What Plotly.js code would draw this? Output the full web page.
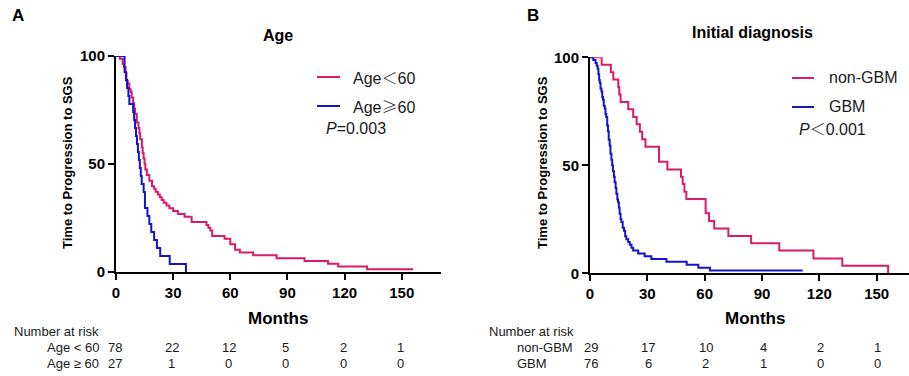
<!DOCTYPE html>
<html>
<head>
<meta charset="utf-8">
<script src="https://cdn.plot.ly/plotly-3.0.1.min.js"></script>
<style>html,body{margin:0;padding:0;background:#fff;}#chart{width:909px;height:376px;}</style>
</head>
<body>
<div id="chart"></div>
<script>
// ---- Data ----
// Panel A: Age
const ageLtTimes = [0, 2.0, 3.5, 4.2, 5.0, 5.5, 6.2, 7.0, 7.7, 8.2, 9.0, 9.5, 10.0, 10.9, 11.8, 12.3, 12.7, 13.6, 14.0, 14.5, 15.0, 15.4, 16.2, 17.5, 18.9, 20.0, 20.8, 22.0, 23.0, 24.0, 25.0, 26.5, 28.0, 30.0, 32.5, 36.0, 39.7, 47.5, 48.5, 49.5, 50.5, 57.0, 60.0, 62.5, 65.0, 72.0, 84.3, 99.0, 111.3, 116.6, 131.8, 156.0];
const ageLtSurv  = [100, 98.7, 96.2, 94.9, 92.3, 88.5, 87.2, 84.6, 83.3, 80.8, 78.2, 75.6, 73.1, 69.2, 66.7, 64.1, 61.5, 57.7, 55.1, 52.6, 50.0, 47.4, 44.9, 42.3, 39.7, 38.5, 37.2, 35.9, 34.6, 33.3, 32.1, 30.8, 29.5, 28.2, 26.9, 25.6, 23.1, 21.8, 20.5, 19.2, 16.7, 15.4, 12.8, 10.3, 9.0, 7.7, 6.4, 5.1, 3.8, 2.6, 1.3, 1.3];
const ageGeTimes = [0, 4.5, 5.2, 5.8, 6.5, 7.0, 9.0, 9.5, 10.0, 10.5, 11.0, 11.5, 12.0, 12.5, 13.0, 13.5, 14.5, 15.2, 16.5, 17.5, 18.5, 20.0, 21.5, 23.2, 28.2, 36.7];
const ageGeSurv  = [100, 92.6, 88.9, 85.2, 81.5, 77.8, 74.1, 70.4, 66.7, 63.0, 59.3, 55.6, 51.9, 48.1, 44.4, 40.7, 37.0, 29.6, 25.9, 22.2, 18.5, 14.8, 11.1, 7.4, 3.7, 0];
// Panel B: Initial diagnosis
const nonGbmTimes = [0, 6.1, 10.9, 12.2, 14.8, 15.3, 16.0, 20.0, 22.6, 24.4, 26.1, 27.3, 29.0, 36.1, 40.5, 47.6, 48.5, 49.4, 50.4, 60.5, 62.3, 65.0, 72.4, 84.3, 99.0, 116.9, 132.0, 156.0];
const nonGbmSurv  = [100, 96.6, 93.1, 89.7, 86.2, 82.8, 79.3, 75.9, 72.4, 69.0, 65.5, 62.1, 58.6, 51.7, 48.1, 44.7, 41.3, 37.8, 34.4, 27.8, 24.2, 20.7, 17.3, 13.9, 10.5, 6.9, 3.5, 0];
const gbmTimes = [0, 1.7, 2.9, 3.5, 4.0, 4.4, 4.8, 5.1, 5.5, 6.0, 6.4, 6.8, 7.2, 7.7, 8.1, 8.5, 9.0, 9.4, 9.8, 10.3, 10.7, 11.2, 11.6, 12.0, 12.5, 12.9, 13.4, 13.8, 14.3, 14.7, 15.1, 15.5, 16.0, 16.4, 17.1, 17.8, 18.4, 19.0, 20.0, 20.8, 21.7, 22.6, 25.2, 28.6, 32.1, 40.0, 50.6, 56.7, 62.8, 111.3];
const gbmSurv  = [100, 98.7, 97.4, 96.1, 94.7, 92.1, 89.5, 88.2, 85.5, 84.2, 81.6, 80.3, 77.6, 76.3, 73.7, 72.4, 68.4, 65.8, 61.8, 59.2, 55.3, 52.6, 50.0, 47.4, 44.7, 42.1, 39.5, 36.8, 34.2, 32.9, 30.3, 27.6, 25.0, 23.7, 21.1, 19.7, 17.1, 15.8, 14.5, 13.2, 11.8, 10.5, 9.2, 7.9, 6.6, 5.3, 4.0, 2.6, 1.3, 1.3];

// Number at risk
const riskTimes = [0, 30, 60, 90, 120, 150];
const riskAgeLt = [78, 22, 12, 5, 2, 1];
const riskAgeGe = [27, 1, 0, 0, 0, 0];
const riskNonGbm = [29, 17, 10, 4, 2, 1];
const riskGbm = [76, 6, 2, 1, 0, 0];

// Tick labels
const xTicks = [0, 30, 60, 90, 120, 150];
const yTicks = [0, 50, 100];

// ---- Styling ----
const W = 909, H = 376;
const PINK = '#DA1A6A', BLUE = '#1414C8';
const FONT = 'Liberation Sans, Arial, sans-serif';
const CJK = "'Noto Sans CJK SC'";
const X = px => px / W;
const Y = py => 1 - py / H;
const sym = c => '<span style="font-family:' + CJK + ';font-weight:300">' + c + '</span>';

function km(t, s, color, xa, ya) {
  return {x: t, y: s, xaxis: xa, yaxis: ya, type: 'scatter', mode: 'lines',
    line: {shape: 'hv', color: color, width: 2}, cliponaxis: false, showlegend: false, hoverinfo: 'skip'};
}

const data = [
  km(ageLtTimes, ageLtSurv, PINK, 'x', 'y'),
  km(ageGeTimes, ageGeSurv, BLUE, 'x', 'y'),
  km(nonGbmTimes, nonGbmSurv, PINK, 'x2', 'y2'),
  km(gbmTimes, gbmSurv, BLUE, 'x2', 'y2')
];

function xax(domain, range, anchor) {
  return {domain: domain, range: range, anchor: anchor, tickvals: xTicks, ticktext: xTicks.map(String),
    showline: true, linecolor: '#000', linewidth: 2, ticks: 'outside', ticklen: 6, tickwidth: 2, tickcolor: '#000',
    showgrid: false, zeroline: false, fixedrange: true,
    tickfont: {family: FONT, size: 15, color: '#000', weight: 'bold'}};
}
function yax(domain, anchor) {
  return {domain: domain, range: [0, 100], anchor: anchor, tickvals: yTicks, ticktext: yTicks.map(String),
    showline: true, linecolor: '#000', linewidth: 2, ticks: 'outside', ticklen: 6, tickwidth: 2, tickcolor: '#000',
    showgrid: false, zeroline: false, fixedrange: true,
    tickfont: {family: FONT, size: 15, color: '#000', weight: 'bold'}};
}

const ann = [];
const shapes = [];
function txt(px, py, text, size, opts) {
  ann.push(Object.assign({x: X(px), y: Y(py), xref: 'paper', yref: 'paper', text: text, showarrow: false,
    xanchor: 'left', yanchor: 'middle', font: {family: FONT, size: size, color: '#1a1a1a'}}, opts || {}));
}
const bold = (size) => ({family: FONT, size: size, color: '#000', weight: 'bold'});
// panel letters and titles
txt(10, 16, 'A', 17, {font: bold(17)});
txt(525, 16, 'B', 17, {font: bold(17)});
txt(278, 35, 'Age', 16, {xanchor: 'center', font: bold(16)});
txt(752, 32, 'Initial diagnosis', 16, {xanchor: 'center', font: bold(16)});
// y titles
txt(67, 163, 'Time to Progression to SGS', 13, {xanchor: 'center', textangle: -90, font: bold(13)});
txt(542, 163, 'Time to Progression to SGS', 13, {xanchor: 'center', textangle: -90, font: bold(13)});
// x titles
txt(278, 318, 'Months', 17, {xanchor: 'center', font: bold(17)});
txt(755, 318, 'Months', 17, {xanchor: 'center', font: bold(17)});
// legends
function legLine(x0, x1, py, color) {
  shapes.push({type: 'line', xref: 'paper', yref: 'paper', x0: X(x0), x1: X(x1), y0: Y(py), y1: Y(py), line: {color: color, width: 2}});
}
legLine(317, 340, 77, PINK); txt(351, 77, 'Age' + sym('＜') + '60', 16);
legLine(317, 340, 106, BLUE); txt(351, 106, 'Age' + sym('≥') + '60', 16);
txt(324, 128, '<i>P</i>=0.003', 16);
legLine(792, 814, 78, PINK); txt(827, 78, 'non-GBM', 16);
legLine(792, 814, 107, BLUE); txt(827, 107, 'GBM', 16);
txt(797, 128, '<i>P</i>' + sym('＜') + '0.001', 16);
// number at risk tables
txt(12, 331, 'Number at risk', 13);
txt(45, 347, 'Age &lt; 60', 13);
txt(45, 363, 'Age ≥ 60', 13);
txt(487, 331, 'Number at risk', 13);
txt(515, 347, 'non-GBM', 13);
txt(515, 363, 'GBM', 13);
function riskRow(vals, xref, py, shift) {
  vals.forEach((v, i) => ann.push({x: riskTimes[i], xref: xref, y: Y(py), yref: 'paper', text: String(v), showarrow: false,
    xanchor: 'center', yanchor: 'middle', xshift: shift, font: {family: FONT, size: 13, color: '#1a1a1a'}}));
}
riskRow(riskAgeLt, 'x', 347, -1.5);
riskRow(riskAgeGe, 'x', 363, -1.5);
riskRow(riskNonGbm, 'x2', 347, 1);
riskRow(riskGbm, 'x2', 363, 1);

const layout = {
  width: W, height: H, margin: {l: 0, r: 0, t: 0, b: 0},
  paper_bgcolor: '#fff', plot_bgcolor: '#fff', showlegend: false,
  font: {family: FONT},
  xaxis: xax([X(116), X(441)], [0, 170.6], 'y'),
  yaxis: yax([Y(272), Y(56)], 'x'),
  xaxis2: xax([X(590), 1], [0, 166.9], 'y2'),
  yaxis2: yax([Y(273.3), Y(57.3)], 'x2'),
  annotations: ann, shapes: shapes
};
Plotly.newPlot('chart', data, layout, {staticPlot: true, displayModeBar: false});
</script>
</body>
</html>
